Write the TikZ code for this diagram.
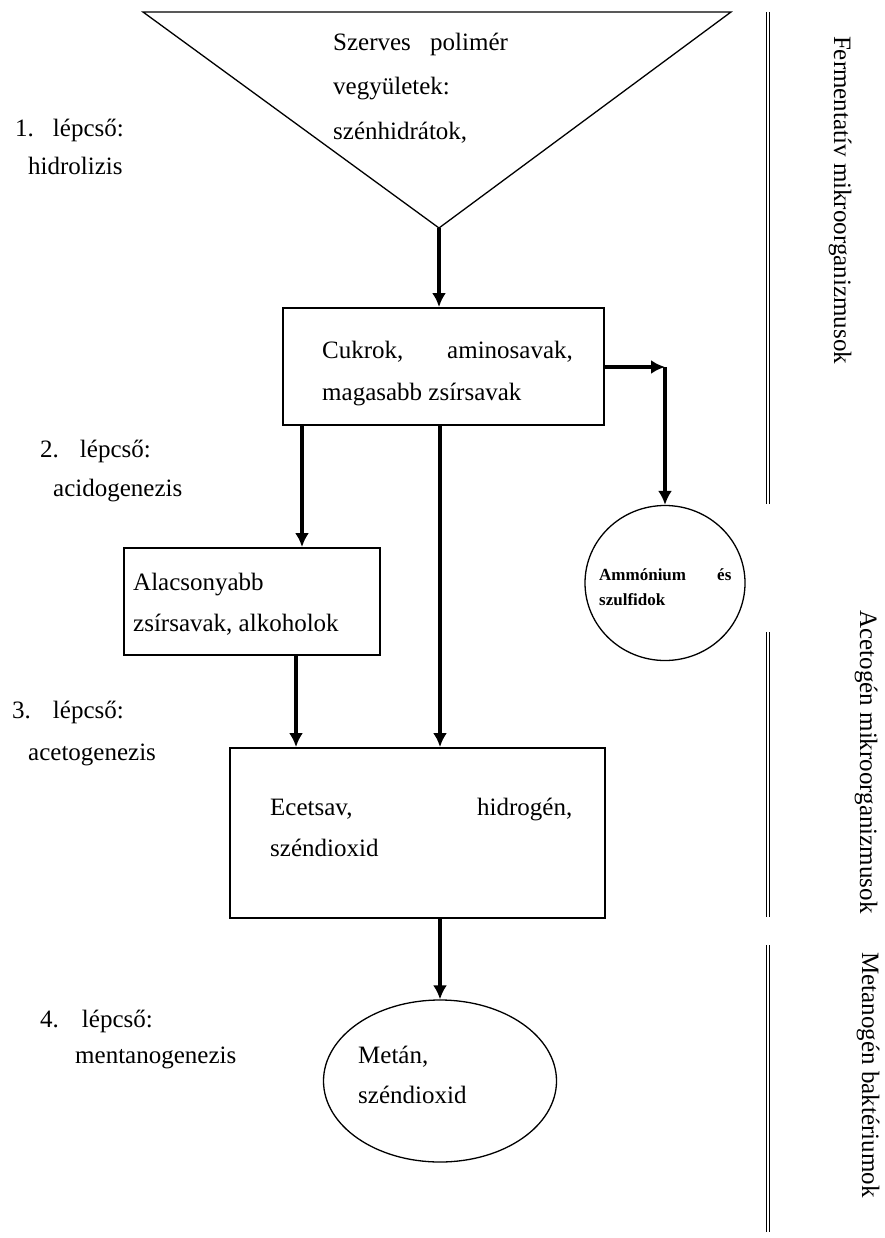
\documentclass[tikz,border=0pt]{standalone}
\usepackage{fontspec}
\setmainfont{Liberation Serif}
\usetikzlibrary{arrows.meta,shapes.geometric}
\begin{document}
\begin{tikzpicture}[x=1pt,y=-1pt,
  box/.style={draw, line width=1.9pt, rectangle, inner sep=0pt},
  blob/.style={draw, line width=1.3pt, ellipse, inner sep=0pt},
  flow/.style={line width=3.3pt, -{Latex[length=14pt,width=14pt]}},
  sep/.style={double, line width=1.3pt, double distance=2.2pt},
  txt/.style={anchor=base west, inner sep=0pt, font=\fontsize{25}{30}\selectfont},
  small/.style={anchor=base west, inner sep=0pt, font=\fontsize{17}{20}\selectfont\bfseries},
  side/.style={rotate=-90, inner sep=0pt, font=\fontsize{25}{30}\selectfont}]

\useasboundingbox[fill=white] (0,0) rectangle (884,1238);

% funnel of the organic polymers
\coordinate (tl) at (143,12);
\coordinate (tr) at (731,12);
\coordinate (apex) at (439,228);
\draw[line width=1.3pt, line join=miter] (tl) -- (tr) -- (apex) -- cycle;

% stage boxes
\node[box, minimum width=321pt, minimum height=117pt] (cuk) at (443.5,366.5) {};
\node[box, minimum width=256pt, minimum height=107pt] (alac) at (252,601.5) {};
\node[box, minimum width=375pt, minimum height=170pt] (ece) at (417.5,833) {};
\node[blob, minimum width=160pt, minimum height=155pt] (amm) at (665,583) {};
\node[blob, minimum width=233pt, minimum height=162pt] (met) at (440,1081) {};

% columns of the vertical connectors
\coordinate (colA) at (302,0);
\coordinate (colB) at (440,0);
\coordinate (colC) at (296,0);
\coordinate (turn) at (665,367);

\draw[flow] (apex) -- (apex |- cuk.north);
\draw[flow] (cuk.south -| colA) -- (alac.north -| colA);
\draw[flow] (cuk.south -| colB) -- (ece.north -| colB);
\draw[flow] (alac.south -| colC) -- (ece.north -| colC);
\draw[flow] (ece.south -| colB) -- (met.north);
\draw[flow] (cuk.east |- turn) -- (turn);
\draw[flow] (turn) -- (amm.north);

% texts inside the shapes
\node[txt] (t1a) at (333,51) {Szerves};
\node[txt] (t1b) at (430,51) {polimér};
\node[txt] (t1c) at (333,95) {vegyületek:};
\node[txt] (t1d) at (333,140) {szénhidrátok,};

\node[txt] (t2a) at (322,358) {Cukrok,};
\node[txt] (t2b) at (447,358) {aminosavak,};
\node[txt] (t2c) at (322,400) {magasabb zsírsavak};

\node[txt] (t3a) at (133,590) {Alacsonyabb};
\node[txt] (t3b) at (133,631) {zsírsavak, alkoholok};

\node[txt] (t4a) at (270,815) {Ecetsav,};
\node[txt] (t4b) at (477,815) {hidrogén,};
\node[txt] (t4c) at (270,856) {széndioxid};

\node[txt] (t5a) at (358,1063) {Metán,};
\node[txt] (t5b) at (358,1103) {széndioxid};

\node[small] (t6a) at (599,580) {Ammónium};
\node[small] (t6b) at (717,580) {és};
\node[small] (t6c) at (599,605) {szulfidok};

% stage labels on the left
\node[txt] (s1a) at (15,137) {1.\hspace{19pt}lépcső:};
\node[txt] (s1b) at (28,175) {hidrolizis};
\node[txt] (s2a) at (40,457) {2.\hspace{21pt}lépcső:};
\node[txt] (s2b) at (53,496) {acidogenezis};
\node[txt] (s3a) at (12,718) {3.\hspace{22pt}lépcső:};
\node[txt] (s3b) at (28,760) {acetogenezis};
\node[txt] (s4a) at (40,1027) {4.\hspace{23pt}lépcső:};
\node[txt] (s4b) at (75,1063) {mentanogenezis};

% microorganism groups on the right
\draw[sep] (768,12) -- (768,504);
\draw[sep] (768,632) -- (768,917);
\draw[sep] (768,945) -- (768,1232);
\node[side] (g1) at (840,200) {Fermentatív mikroorganizmusok};
\node[side] (g2) at (866,762) {Acetogén mikroorganizmusok};
\node[side] (g3) at (868,1075) {Metanogén baktériumok};

\end{tikzpicture}
\end{document}
